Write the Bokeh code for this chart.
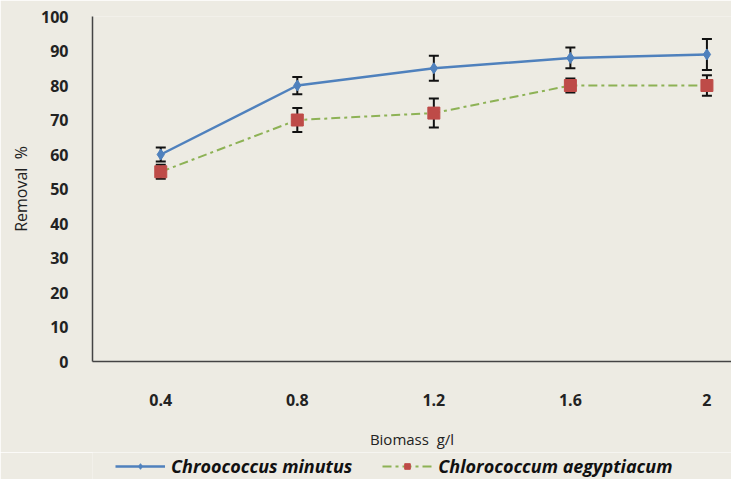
from bokeh.plotting import figure
from bokeh.layouts import column
from bokeh.models import (ColumnDataSource, Whisker, TeeHead, Legend, LegendItem,
                          FixedTicker, Range1d)
from bokeh.embed import file_html
from bokeh.resources import INLINE

biomass = ["0.4", "0.8", "1.2", "1.6", "2"]
chroococcus = [60, 80, 85, 88, 89]
chroococcus_err = [2, 2.5, 3.6, 3, 4.5]
chlorococcum = [55, 70, 72, 80, 80]
chlorococcum_err = [2, 3.5, 4.2, 2, 3]
y_ticks = [0, 10, 20, 30, 40, 50, 60, 70, 80, 90, 100]
series_names = ["Chroococcus minutus", "Chlorococcum aegyptiacum"]

xs = list(range(len(biomass)))
src_a = ColumnDataSource(dict(
    x=xs, y=chroococcus,
    lo=[v - e for v, e in zip(chroococcus, chroococcus_err)],
    hi=[v + e for v, e in zip(chroococcus, chroococcus_err)]))
src_b = ColumnDataSource(dict(
    x=xs, y=chlorococcum,
    lo=[v - e for v, e in zip(chlorococcum, chlorococcum_err)],
    hi=[v + e for v, e in zip(chlorococcum, chlorococcum_err)]))

BG = "#EDEBE3"
FONT = "Open Sans"
BLUE, GREEN, RED = "#4F81BD", "#8DB255", "#BE4B48"

p = figure(width=731, height=452, frame_width=639, frame_height=345,
           output_backend="svg", toolbar_location=None,
           x_range=Range1d(-0.5, 4.18), y_range=Range1d(0, 100),
           background_fill_color=BG, border_fill_color=BG,
           min_border_left=92, min_border_right=0, min_border_top=16,
           min_border_bottom=91)
p.outline_line_color = None
p.grid.visible = False


def draw_series(fig, sa, sb):
    la = fig.line("x", "y", source=sa, line_color=BLUE, line_width=2.5)
    ma = fig.scatter("x", "y", source=sa, marker="diamond", size=11,
                     fill_color=BLUE, line_color=BLUE)
    lb = fig.line("x", "y", source=sb, line_color=GREEN, line_width=2,
                  line_dash="9 4 3 4")
    mb = fig.scatter("x", "y", source=sb, marker="square", size=12,
                     fill_color=RED, line_color=RED)
    return la, ma, lb, mb


draw_series(p, src_a, src_b)

for src in (src_a, src_b):
    w = Whisker(source=src, base="x", upper="hi", lower="lo", dimension="height",
                line_color="#111111", line_width=2,
                upper_head=TeeHead(size=10, line_color="#111111", line_width=2),
                lower_head=TeeHead(size=10, line_color="#111111", line_width=2))
    p.add_layout(w)

# axes
p.xaxis.ticker = FixedTicker(ticks=xs)
p.xaxis.major_label_overrides = {i: s for i, s in enumerate(biomass)}
p.yaxis.ticker = FixedTicker(ticks=y_ticks)
for ax in (p.xaxis, p.yaxis):
    ax.major_tick_line_color = None
    ax.minor_tick_line_color = None
    ax.axis_line_color = "#444444"
    ax.axis_line_width = 1.5
    ax.major_label_text_font = FONT
    ax.major_label_text_font_size = "16px"
    ax.major_label_text_color = "#222222"
    ax.major_label_text_font_style = "bold"
    ax.axis_label_text_font = FONT
    ax.axis_label_text_font_size = "15px"
    ax.axis_label_text_font_style = "normal"
    ax.axis_label_text_color = "#222222"

p.xaxis.axis_label = "Biomass\u00a0\u00a0g/l"
p.xaxis.major_label_standoff = 26
p.xaxis.axis_label_standoff = 20
p.yaxis.axis_label = "Removal\u00a0\u00a0%"
p.yaxis.axis_label_text_font_size = "16px"
p.yaxis.major_label_standoff = 18
p.yaxis.axis_label_standoff = 6

# legend strip below the chart (legend-only renderers, drawn off range)
lf = figure(width=731, height=27, output_backend="svg", toolbar_location=None,
            x_range=Range1d(0, 1), y_range=Range1d(0, 1),
            background_fill_color=BG, border_fill_color=BG,
            min_border_left=92, min_border_right=0, min_border_top=0,
            min_border_bottom=0, outline_line_color=None)
lf.axis.visible = False
lf.grid.visible = False
off_a = ColumnDataSource(dict(x=[-5], y=[-5]))
off_b = ColumnDataSource(dict(x=[-5], y=[-5]))
la, ma, lb, mb = draw_series(lf, off_a, off_b)
legend = Legend(items=[
    LegendItem(label=series_names[0], renderers=[la, ma]),
    LegendItem(label=series_names[1], renderers=[lb, mb]),
], orientation="horizontal", location=(23, 1),
    background_fill_alpha=0, border_line_color=None,
    label_text_font=FONT, label_text_font_style="bold italic",
    label_text_font_size="18px", label_text_color="#111111",
    glyph_width=50, glyph_height=14, spacing=30, padding=0, margin=0,
    label_standoff=6)
lf.add_layout(legend)

layout = column(p, lf, spacing=0)
open("out.html", "w").write(file_html(layout, INLINE))
